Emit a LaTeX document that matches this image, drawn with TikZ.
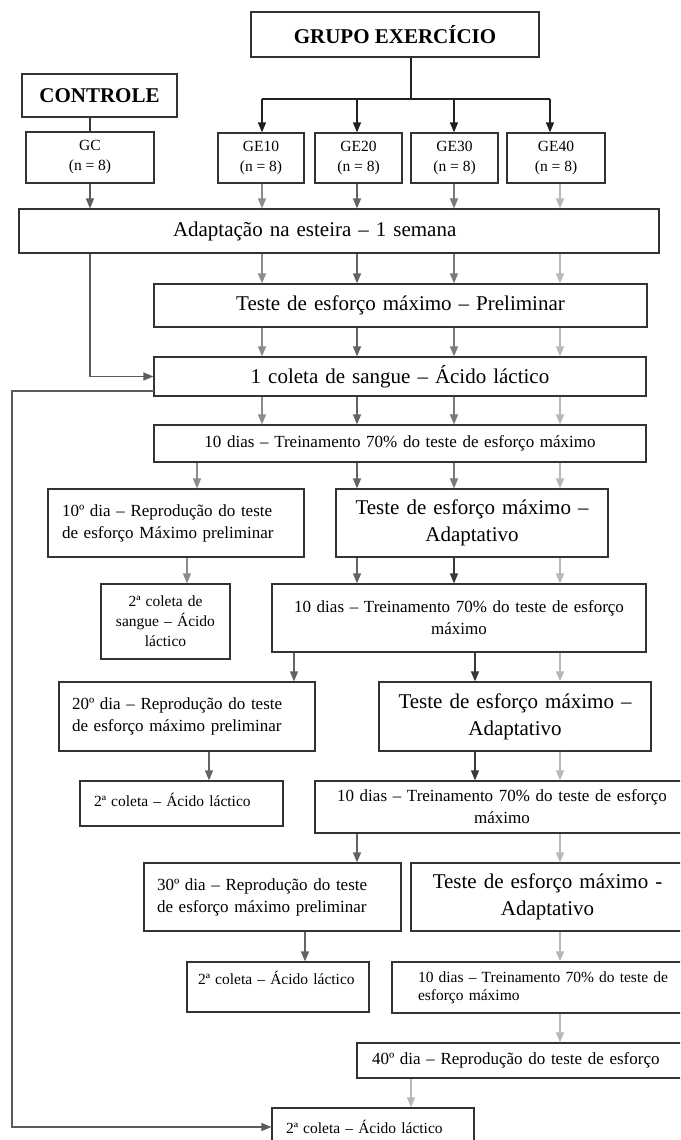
\documentclass[tikz,border=0pt]{standalone}
\usepackage{fontspec}
\setmainfont{Liberation Serif}
\usetikzlibrary{arrows.meta}

\definecolor{preto}{gray}{0.13}
\definecolor{escuro}{gray}{0.22}
\definecolor{corgc}{gray}{0.36}
\definecolor{cor10}{gray}{0.55}
\definecolor{cor20}{gray}{0.39}
\definecolor{cor30}{gray}{0.48}
\definecolor{cor40}{gray}{0.72}

\begin{document}
\begin{tikzpicture}[x=1pt, y=-1pt,
        caixa/.style={rectangle, draw=black!80, line width=1.2pt, inner sep=0pt},
        titulo/.style={font=\fontsize{21}{25}\selectfont\bfseries},
        grande/.style={font=\fontsize{21}{27}\selectfont},
        medio/.style={font=\fontsize{17}{22}\selectfont},
        pequeno/.style={font=\fontsize{15.5}{20}\selectfont},
        seta/.style={line width=1.4pt, -{Triangle[length=10pt, width=8pt]}},
        linha/.style={line width=1.4pt}]

    \useasboundingbox (0,0) rectangle (680,1140);
    \clip (0,0) rectangle (680,1140);

    % Grupos
    \node[caixa, titulo, minimum width=288, minimum height=45] (grupo) at (395,34.5) {GRUPO EXERCÍCIO};
    \node[caixa, titulo, minimum width=155, minimum height=43] (controle) at (99.5,95.5) {CONTROLE};
    \node[caixa, pequeno, minimum width=128, minimum height=51, align=center] (gc) at (90,157.5) {GC\\(n = 8)};
    \foreach \n/\cx/\w in {10/261/86, 20/358.5/87, 30/454.5/87, 40/556/98} {
        \node[caixa, pequeno, minimum width=\w, minimum height=50, align=center] (ge\n) at (\cx,158) {GE\n\\(n = 8)};
    }

    % Etapas comuns
    \node[caixa, grande, minimum width=640, minimum height=44, text width=332, align=left] (adapt) at (339,231) {Adaptação na esteira – 1 semana};
    \node[caixa, grande, minimum width=493, minimum height=43, text width=480, align=center] (prelim) at (400.5,305.5) {Teste de esforço máximo – Preliminar};
    \node[caixa, grande, minimum width=492, minimum height=39, text width=480, align=center] (coleta1) at (400,376.5) {1 coleta de sangue – Ácido láctico};
    \node[caixa, medio, minimum width=492, minimum height=37, text width=480, align=center] (treino1) at (400,443.5) {10 dias – Treinamento 70\% do teste de esforço máximo};

    % 10 dias
    \node[caixa, medio, minimum width=256, minimum height=68, text width=228, align=left] (dia10) at (176,523) {10º dia – Reprodução do teste\\de esforço Máximo preliminar};
    \node[caixa, grande, minimum width=272, minimum height=68, text width=260, align=center] (adapt1) at (472,523) {Teste de esforço máximo –\\Adaptativo};
    \node[caixa, pequeno, minimum width=129, minimum height=75, text width=120, align=center] (sangue10) at (165.5,621.5) {2ª coleta de\\sangue – Ácido\\láctico};
    \node[caixa, medio, minimum width=374, minimum height=68, text width=360, align=center] (treino2) at (459,618) {10 dias – Treinamento 70\% do teste de esforço\\máximo};

    % 20 dias
    \node[caixa, medio, minimum width=256, minimum height=69, text width=230, align=left] (dia20) at (187,716.5) {20º dia – Reprodução do teste\\de esforço máximo preliminar};
    \node[caixa, grande, minimum width=272, minimum height=69, text width=260, align=center] (adapt2) at (515,716.5) {Teste de esforço máximo –\\Adaptativo};
    \node[caixa, pequeno, minimum width=203, minimum height=45, text width=175, align=left, text depth=8pt] (sangue20) at (181.5,803.5) {2ª coleta – Ácido láctico};
    \node[caixa, medio, minimum width=374, minimum height=52, text width=360, align=center] (treino3) at (502,807) {10 dias – Treinamento 70\% do teste de esforço\\máximo};

    % 30 dias
    \node[caixa, medio, minimum width=257, minimum height=68, text width=231, align=left] (dia30) at (272.5,897) {30º dia – Reprodução do teste\\de esforço máximo preliminar};
    \node[caixa, grande, minimum width=273, minimum height=68, text width=260, align=center] (adapt3) at (547.5,897) {Teste de esforço máximo -\\Adaptativo};
    \node[caixa, pequeno, minimum width=182, minimum height=50, text width=160, align=left, text depth=18pt] (sangue30) at (278,987) {2ª coleta – Ácido láctico};
    \node[caixa, font=\fontsize{15.5}{18}\selectfont, minimum width=332, minimum height=51, text width=280, align=left] (treino4) at (558,987.5) {10 dias – Treinamento 70\% do teste de\\esforço máximo};

    % 40 dias
    \node[caixa, medio, minimum width=343, minimum height=35, text width=313, align=left] (dia40) at (528.5,1060.5) {40º dia – Reprodução do teste de esforço};
    \node[caixa, pequeno, minimum width=202, minimum height=38, text width=174, align=left] (sangue40) at (373,1127) {2ª coleta – Ácido láctico};

    % Colunas das setas
    \foreach \nome/\x in {k0/90, k1/262, k2/357, k3/454, k4/560, t40/550, r1/197, r2/187, r3/294, r4/209, r5/475, r6/305, r7/411}
        \coordinate (\nome) at (\x,0);

    % Ramificação do grupo exercício
    \coordinate (ramo) at (411,99);
    \draw[linha, preto] (grupo.south -| ramo) -- (ramo);
    \draw[linha, preto] (ramo -| k1) -- (ramo -| t40);
    \foreach \g/\k in {ge10/k1, ge20/k2, ge30/k3, ge40/t40}
        \draw[seta, preto] (ramo -| \k) -- (\g.north -| \k);
    \draw[linha, escuro] (controle.south -| gc.north) -- (gc.north);

    % Setas até o treinamento
    \draw[seta, corgc] (gc.south) -- (adapt.north -| gc.south);
    \foreach \g/\k/\c in {ge10/k1/cor10, ge20/k2/cor20, ge30/k3/cor30, ge40/k4/cor40}
        \draw[seta, \c] (\g.south -| \k) -- (adapt.north -| \k);
    \foreach \de/\para in {adapt/prelim, prelim/coleta1, coleta1/treino1}
        \foreach \k/\c in {k1/cor10, k2/cor20, k3/cor30, k4/cor40}
            \draw[seta, \c] (\de.south -| \k) -- (\para.north -| \k);
    \draw[seta, corgc] (adapt.south -| k0) |- (coleta1.west);

    % 10 dias
    \draw[seta, cor10] (treino1.south -| r1) -- (dia10.north -| r1);
    \foreach \k/\c in {k2/cor20, k3/cor30, k4/cor40}
        \draw[seta, \c] (treino1.south -| \k) -- (adapt1.north -| \k);
    \draw[seta, cor10] (dia10.south -| r2) -- (sangue10.north -| r2);
    \foreach \k/\c in {k2/cor20, k3/escuro, k4/cor40}
        \draw[seta, \c] (adapt1.south -| \k) -- (treino2.north -| \k);

    % 20 dias
    \draw[seta, cor20] (treino2.south -| r3) -- (dia20.north -| r3);
    \foreach \k/\c in {r5/escuro, k4/cor40} {
        \draw[seta, \c] (treino2.south -| \k) -- (adapt2.north -| \k);
        \draw[seta, \c] (adapt2.south -| \k) -- (treino3.north -| \k);
    }
    \draw[seta, cor20] (dia20.south -| r4) -- (sangue20.north -| r4);

    % 30 dias
    \draw[seta, cor20] (treino3.south -| k2) -- (dia30.north -| k2);
    \draw[seta, cor40] (treino3.south -| k4) -- (adapt3.north -| k4);
    \draw[seta, cor20] (dia30.south -| r6) -- (sangue30.north -| r6);
    \draw[seta, cor40] (adapt3.south -| k4) -- (treino4.north -| k4);

    % 40 dias
    \draw[seta, cor40] (treino4.south -| k4) -- (dia40.north -| k4);
    \draw[seta, cor40] (dia40.south -| r7) -- (sangue40.north -| r7);

    % Retorno do controle
    \coordinate (saida) at (154,391);
    \coordinate (borda) at (12,0);
    \draw[seta, corgc] (saida) -- (saida -| borda) |- (sangue40.west);
\end{tikzpicture}
\end{document}
